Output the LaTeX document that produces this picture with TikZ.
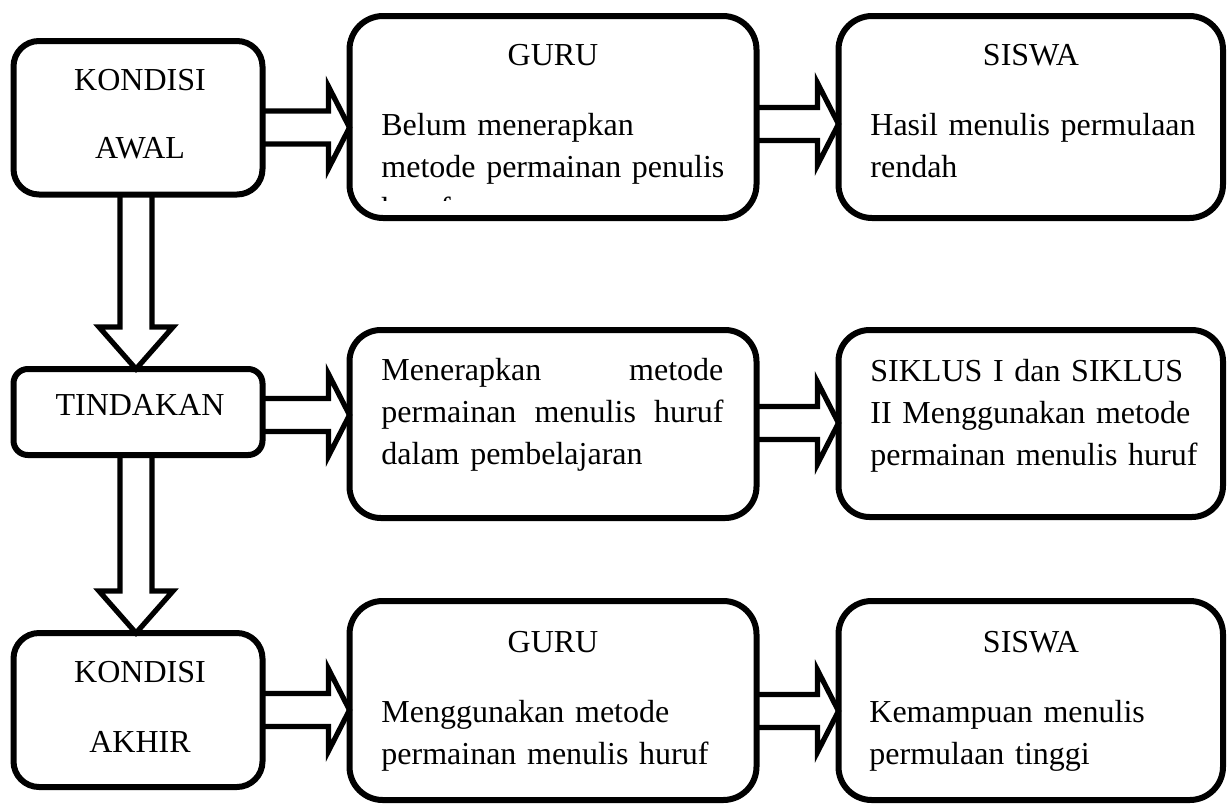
\documentclass[tikz,border=0pt]{standalone}
\usepackage{fontspec}
\setmainfont{Liberation Serif}
\usetikzlibrary{calc}

\tikzset{
  box/.style={draw, line width=3pt, rectangle, inner sep=0pt, outer sep=0pt},
  blockarrow/.style={line width=2.6pt, line join=miter, miter limit=10},
  title/.style={anchor=base, inner sep=0pt, text width=120pt, align=center},
  body/.style={anchor=base west, inner sep=0pt, text width=185pt, align=left},
}

% block arrow to the right: source, target, y
\newcommand{\blockright}[3]{%
  \path (#1.east |- 0,#3) coordinate (s) (#2.west |- 0,#3) coordinate (t);
  \draw[blockarrow] ($(s)+(0,-16.5)$) -- ($(t)+(-21,-16.5)$) -- ($(t)+(-21,-41)$)
    -- (t) -- ($(t)+(-21,41)$) -- ($(t)+(-21,16.5)$) -- ($(s)+(0,16.5)$);
}
% block arrow downwards: source, target, x
\newcommand{\blockdown}[3]{%
  \path (#1.south -| #3,0) coordinate (s) (#2.north -| #3,0) coordinate (t);
  \draw[blockarrow] ($(s)+(-16,0)$) -- ($(t)+(-16,-42)$) -- ($(t)+(-37,-42)$)
    -- (t) -- ($(t)+(37,-42)$) -- ($(t)+(16,-42)$) -- ($(s)+(16,0)$);
}

\begin{document}
\begin{tikzpicture}[x=0.5pt, y=-0.5pt, font=\fontsize{16pt}{21pt}\selectfont]
  \useasboundingbox (0,0) rectangle (1228,805);

  % --- Define Coordinates ---
  \coordinate (C_awal) at (138,117.75);
  \coordinate (C_guru1) at (553,117);
  \coordinate (C_siswa1) at (1030.75,117);
  \coordinate (C_tindakan) at (138,412);
  \coordinate (C_guru2) at (553,424);
  \coordinate (C_siswa2) at (1030.75,423.5);
  \coordinate (C_akhir) at (138,710);
  \coordinate (C_guru3) at (553,700.5);
  \coordinate (C_siswa3) at (1030.75,700.5);

  % --- Draw Boxes ---
  \node[box, minimum width=124.5pt, minimum height=76.75pt, rounded corners=12.75pt] (kawal) at (C_awal) {};
  \node[box, minimum width=203.5pt, minimum height=101pt, rounded corners=16.8pt] (guru1) at (C_guru1) {};
  \node[box, minimum width=192.25pt, minimum height=101pt, rounded corners=16.8pt] (siswa1) at (C_siswa1) {};

  \node[box, minimum width=124.5pt, minimum height=43pt, rounded corners=7.2pt] (tindakan) at (C_tindakan) {};
  \node[box, minimum width=203.5pt, minimum height=94pt, rounded corners=15.7pt] (guru2) at (C_guru2) {};
  \node[box, minimum width=192.25pt, minimum height=93.5pt, rounded corners=15.6pt] (siswa2) at (C_siswa2) {};

  \node[box, minimum width=124.5pt, minimum height=77pt, rounded corners=12.8pt] (kakhir) at (C_akhir) {};
  \node[box, minimum width=203.5pt, minimum height=99.5pt, rounded corners=16.6pt] (guru3) at (C_guru3) {};
  \node[box, minimum width=192.25pt, minimum height=99.5pt, rounded corners=16.6pt] (siswa3) at (C_siswa3) {};

  % --- Draw Block Arrows ---
  \blockright{kawal}{guru1}{127.5}
  \blockright{guru1}{siswa1}{124}
  \blockright{tindakan}{guru2}{415}
  \blockright{guru2}{siswa2}{423}
  \blockright{kakhir}{guru3}{710}
  \blockright{guru3}{siswa3}{711}
  \blockdown{kawal}{tindakan}{136}
  \blockdown{tindakan}{kakhir}{136}

  % --- Add Labels ---
  % left column
  \node[title] (kawal_t) at (140,90) {KONDISI\\[13pt]AWAL};
  \node[title] (tindakan_t) at (140,415) {TINDAKAN};
  \node[title] (kakhir_t) at (140,682) {KONDISI\\[14pt]AKHIR};

  % top row
  \node[title] (guru1_t) at (553,65) {GURU};
  \begin{scope}
    \clip (349,16) rectangle (756,200); % text frame cuts the last line
    \node[body] (guru1_b) at (381,135) {Belum menerapkan\\metode permainan penulis\\huruf};
  \end{scope}
  \node[title] (siswa1_t) at (1031,65) {SISWA};
  \node[body] (siswa1_b) at (870,135) {Hasil menulis permulaan\\rendah};

  % middle row
  \node[body, text width=171pt] (guru2_b) at (381,380)
    {Menerapkan\hfill metode\\permainan\hfill menulis\hfill huruf\\dalam pembelajaran};
  \node[body] (siswa2_b) at (870,381) {SIKLUS I dan SIKLUS\\II Menggunakan metode\\permainan menulis huruf};

  % bottom row
  \node[title] (guru3_t) at (553,652) {GURU};
  \node[body] (guru3_b) at (381,722) {Menggunakan metode\\permainan menulis huruf};
  \node[title] (siswa3_t) at (1031,652) {SISWA};
  \node[body] (siswa3_b) at (869,722) {Kemampuan menulis\\permulaan tinggi};

\end{tikzpicture}
\end{document}
